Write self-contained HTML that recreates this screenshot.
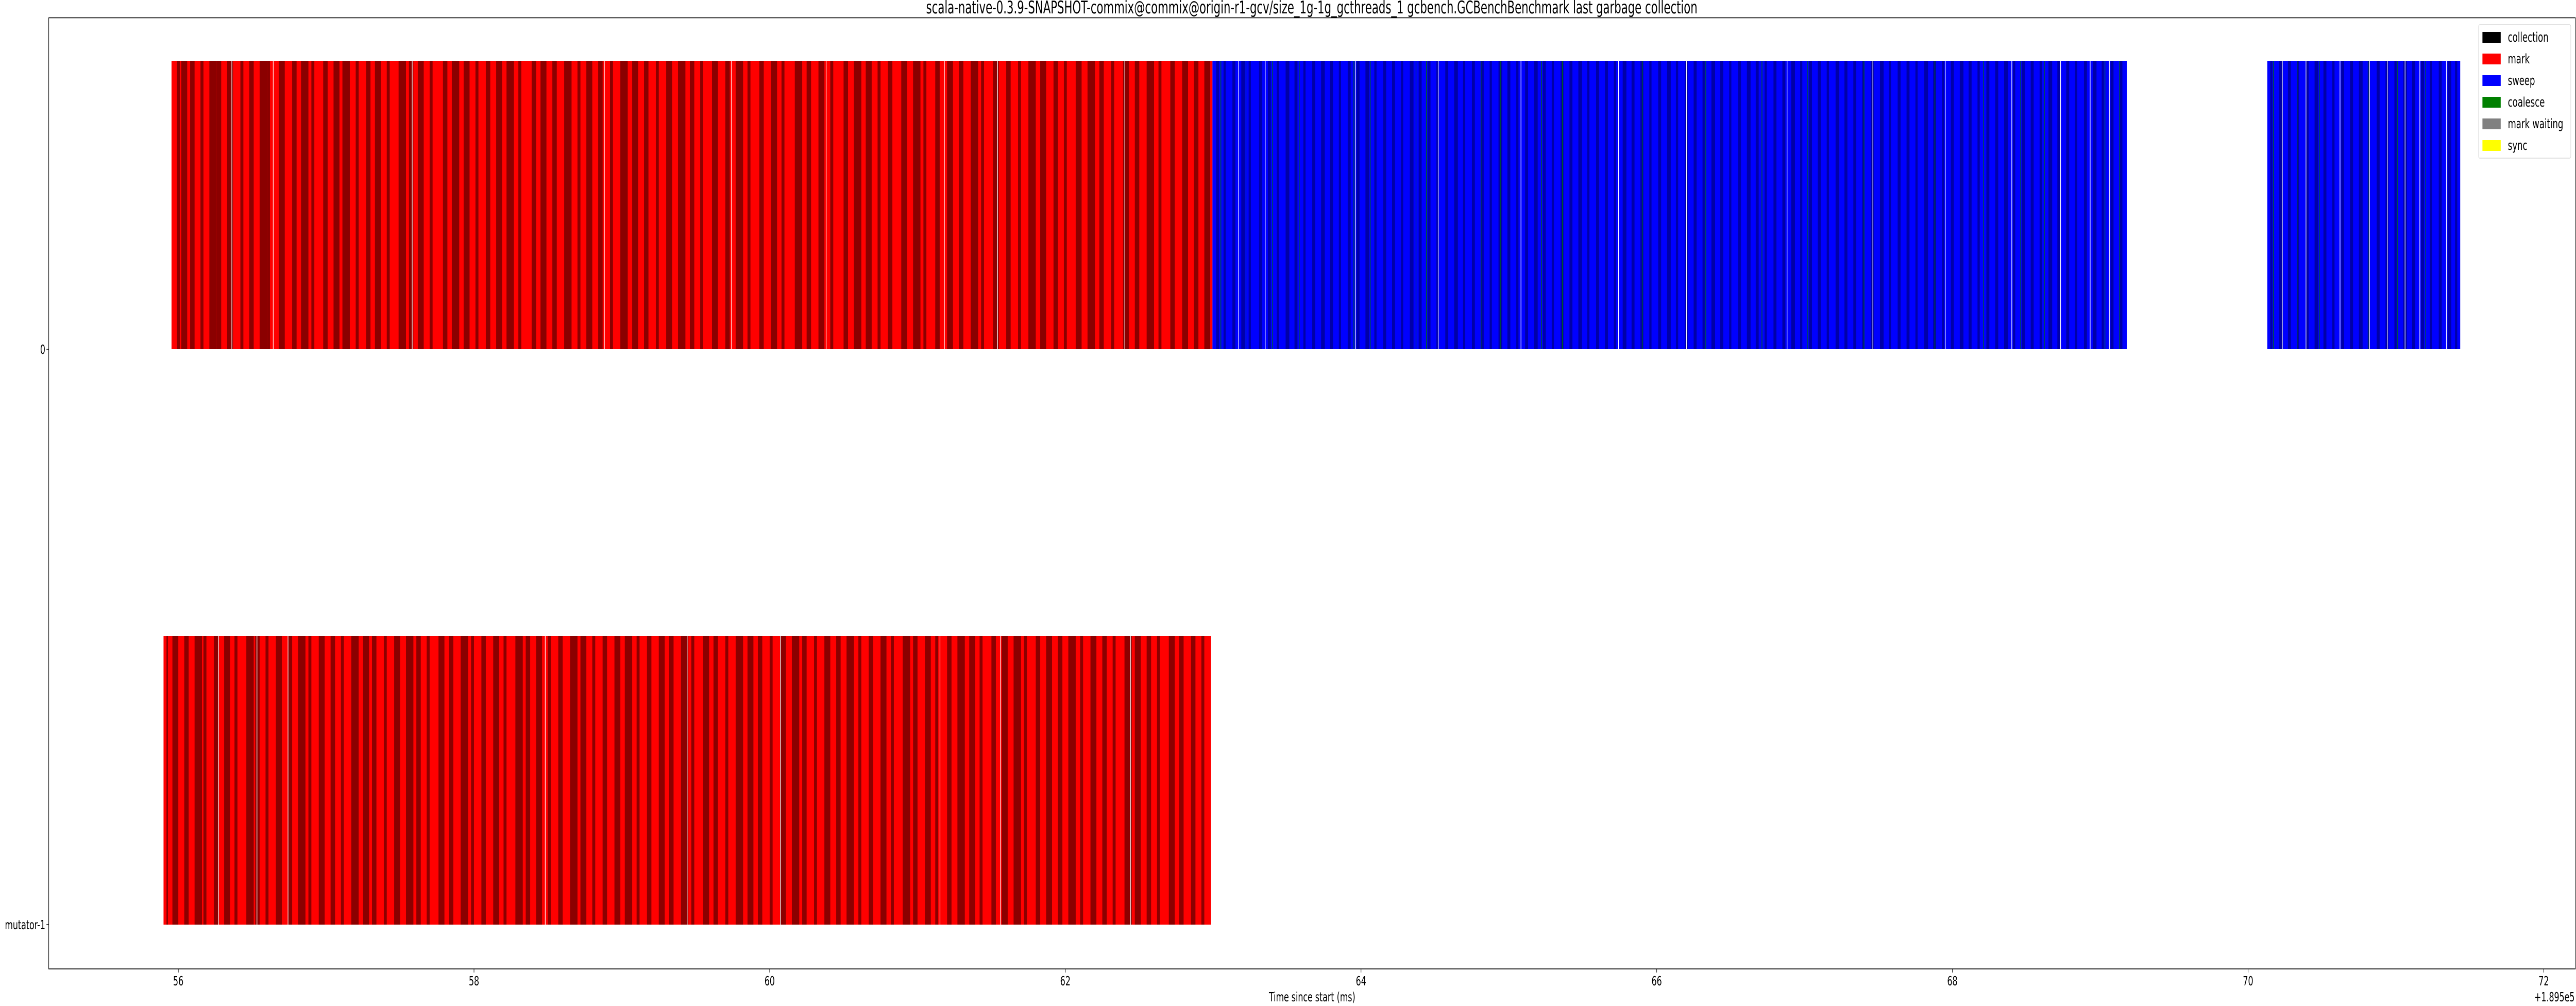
<!DOCTYPE html>
<html><head><meta charset="utf-8"><style>
html,body{margin:0;padding:0;background:#fff;overflow:hidden;width:100vw;height:100vh;}
svg{display:block;width:100vw;height:100vh;font-family:"DejaVu Sans","Liberation Sans",sans-serif;}
</style></head><body>
<svg id="chart" viewBox="0 0 7902 1953" preserveAspectRatio="none" xmlns="http://www.w3.org/2000/svg">
<rect width="7902" height="1953" fill="#fff"/>
<text x="4024" y="26" font-size="34" text-anchor="middle" textLength="2366" lengthAdjust="spacingAndGlyphs">scala-native-0.3.9-SNAPSHOT-commix@commix@origin-r1-gcv/size_1g-1g_gcthreads_1 gcbench.GCBenchBenchmark last garbage collection</text>
<g id="marks"></g>
<g id="axes"></g>
</svg>
<script>
const rowLabels = ['0', 'mutator-1'];
const xTicks = [56, 58, 60, 62, 64, 66, 68, 70, 72];
const xOffsetLabel = '+1.895e5';
const row0Mark = [55.954, 62.995];
const row0Sweep1 = [62.995, 69.18];
const row0Sweep2 = [70.13, 71.435];
const mutMark = [55.90, 62.986];
const r0DarkStart = [55.99,56.02,56.08,56.15,56.21,56.26,56.33,56.42,56.48,56.55,56.60,56.68,56.77,56.83,56.90,56.98,57.05,57.11,57.20,57.27,57.33,57.41,57.49,57.56,57.62,57.70,57.79,57.85,57.93,58.01,58.08,58.15,58.22,58.30,58.39,58.45,58.53,58.61,58.70,58.76,58.84,58.92,58.99,59.07,59.15,59.23,59.30,59.38,59.46,59.53,59.61,59.70,59.77,59.85,59.93,60.01,60.08,60.17,60.25,60.33,60.41,60.50,60.57,60.65,60.73,60.80,60.89,60.97,61.04,61.12,61.20,61.28,61.36,61.43,61.51,61.60,61.68,61.75,61.83,61.92,61.99,62.07,62.15,62.23,62.31,62.39,62.47,62.55,62.63,62.71,62.79,62.87,62.94];
const r0DarkWidth = [0.02,0.04,0.03,0.02,0.05,0.03,0.04,0.02,0.03,0.05,0.02,0.04,0.03,0.05,0.02,0.03,0.04,0.05,0.02,0.03,0.04,0.02,0.05,0.03,0.04,0.02,0.03,0.05,0.04,0.02,0.03,0.04,0.05,0.02,0.03,0.04,0.03,0.05,0.02,0.04,0.03,0.02,0.05,0.04,0.03,0.02,0.04,0.05,0.03,0.02,0.04,0.03,0.05,0.02,0.03,0.04,0.02,0.05,0.03,0.04,0.02,0.03,0.05,0.04,0.02,0.03,0.04,0.05,0.02,0.03,0.04,0.03,0.05,0.02,0.04,0.03,0.02,0.05,0.04,0.03,0.02,0.04,0.05,0.03,0.02,0.04,0.03,0.05,0.02,0.03,0.04,0.03,0.04];
const r0WhiteGaps = [56.36,56.64,57.58,58.88,59.74,60.38,61.18,61.54,62.40];
const mutDarkStart = [55.92,55.96,56.04,56.11,56.17,56.24,56.31,56.38,56.46,56.52,56.59,56.66,56.74,56.81,56.88,56.95,57.03,57.10,57.17,57.25,57.31,57.39,57.46,57.54,57.61,57.68,57.76,57.83,57.91,57.98,58.05,58.13,58.20,58.28,58.35,58.42,58.50,58.57,58.65,58.72,58.80,58.87,58.95,59.02,59.10,59.17,59.25,59.32,59.40,59.47,59.55,59.62,59.70,59.77,59.85,59.92,60.00,60.07,60.15,60.22,60.30,60.37,60.45,60.52,60.60,60.67,60.75,60.82,60.90,60.97,61.05,61.12,61.20,61.27,61.35,61.42,61.50,61.57,61.65,61.72,61.80,61.87,61.95,62.02,62.10,62.17,62.25,62.32,62.40,62.47,62.55,62.62,62.70,62.77,62.85,62.92];
const mutDarkWidth = [0.01,0.04,0.03,0.05,0.02,0.03,0.04,0.02,0.05,0.03,0.02,0.04,0.03,0.05,0.02,0.04,0.03,0.02,0.05,0.04,0.03,0.02,0.04,0.05,0.03,0.02,0.04,0.03,0.05,0.02,0.03,0.04,0.02,0.05,0.03,0.04,0.02,0.03,0.05,0.04,0.02,0.03,0.04,0.05,0.02,0.03,0.04,0.03,0.05,0.02,0.04,0.03,0.02,0.05,0.04,0.03,0.02,0.04,0.05,0.03,0.02,0.04,0.03,0.05,0.02,0.03,0.04,0.02,0.05,0.03,0.04,0.02,0.03,0.05,0.04,0.02,0.03,0.04,0.05,0.02,0.03,0.04,0.03,0.05,0.02,0.04,0.03,0.02,0.05,0.04,0.03,0.02,0.04,0.03,0.03,0.02];
const mutWhiteGaps = [56.27,56.53,56.74,58.48,59.44,60.07,61.15,61.56,62.44];
const sweepDarkStart = [63.02,63.07,63.13,63.19,63.24,63.31,63.37,63.43,63.49,63.55,63.61,63.67,63.73,63.79,63.85,63.91,63.97,64.03,64.09,64.15,64.21,64.27,64.33,64.39,64.45,64.51,64.57,64.63,64.69,64.75,64.81,64.87,64.93,64.99,65.05,65.11,65.17,65.23,65.29,65.35,65.41,65.47,65.53,65.59,65.65,65.71,65.77,65.83,65.89,65.95,66.01,66.07,66.13,66.19,66.25,66.31,66.37,66.43,66.49,66.55,66.61,66.67,66.73,66.79,66.85,66.91,66.97,67.03,67.09,67.15,67.21,67.27,67.33,67.39,67.45,67.51,67.57,67.63,67.69,67.75,67.81,67.87,67.93,67.99,68.05,68.11,68.17,68.23,68.29,68.35,68.41,68.47,68.53,68.59,68.65,68.71,68.77,68.83,68.89,68.95,69.01,69.07,69.13,70.15,70.21,70.27,70.33,70.39,70.45,70.51,70.57,70.63,70.69,70.75,70.81,70.87,70.93,70.99,71.05,71.11,71.17,71.23,71.29,71.35,71.40];
const sweepDarkWidth = [0.02,0.015,0.02,0.025,0.015,0.02,0.02,0.015,0.025,0.02,0.015,0.02,0.025,0.02,0.015,0.02,0.02,0.025,0.015,0.02,0.02,0.015,0.025,0.02];
const sweepWhiteGaps = [63.17,63.35,63.96,64.52,65.08,65.74,66.20,66.88,67.46,67.95,68.40,68.73,68.93,69.06,70.23,70.39,70.62,70.82,70.94,71.06,71.16,71.34];
const coalesceLines = [63.05,63.22,63.40,63.58,63.95,64.06,64.37,64.44,64.81,64.94,65.22,65.36,65.90,66.33,66.71,67.02,67.40,67.88,68.21,68.46,68.62,69.03,69.13,70.17,70.33,70.48,70.81,71.01,71.20];

const NS = 'http://www.w3.org/2000/svg';
const marks = document.getElementById('marks');
const axes = document.getElementById('axes');
const X0 = 547, PX_PER_MS = 453.5;
const xScale = t => X0 + (t - 56) * PX_PER_MS;
const yScale = i => 678 + i * 1117;
const BAR_H = 560;
const L = 149.5, R = 7900, T = 34.5, B = 1881;

function mk(tag, attrs, parent) {
  const el = document.createElementNS(NS, tag);
  for (const k in attrs) el.setAttribute(k, attrs[k]);
  parent.appendChild(el);
  return el;
}
function span(row, a, b, color, parent) {
  const x1 = xScale(a), x2 = xScale(b);
  return mk('rect', {x: x1, y: yScale(row) - BAR_H, width: Math.max(x2 - x1, 1), height: BAR_H, fill: color}, parent);
}

let el = span(0, row0Mark[0], row0Mark[1], '#ff0000', marks);


el = span(1, mutMark[0], mutMark[1], '#ff0000', marks);


el = span(0, row0Sweep1[0], row0Sweep1[1], '#0000ff', marks);


el = span(0, row0Sweep2[0], row0Sweep2[1], '#0000ff', marks);



r0DarkStart.forEach((s, i) => {
  const e = span(0, s, Math.min(s + (r0DarkWidth[i] || 0.03), row0Mark[1]), '#8b0000', marks);
  
  
});
mutDarkStart.forEach((s, i) => {
  const e = span(1, s, Math.min(s + (mutDarkWidth[i] || 0.03), mutMark[1]), '#8b0000', marks);
  
  
});
sweepDarkStart.forEach((s, i) => {
  const e = span(0, s, s + (sweepDarkWidth[i % sweepDarkWidth.length] || 0.02), '#0000a8', marks);
  
  
});
coalesceLines.forEach(s => {
  const e = span(0, s, s + 0.004, '#007000', marks);
  
  
});
r0WhiteGaps.concat(sweepWhiteGaps).forEach(s => {
  const e = span(0, s, s + 0.004, '#ffffff', marks);
  
  
});
mutWhiteGaps.forEach(s => {
  const e = span(1, s, s + 0.004, '#ffffff', marks);
  
  
});

const frame = mk('rect', {x: L, y: T, width: R - L, height: B - T, fill: 'none', stroke: '#000', 'stroke-width': 1.6}, axes);



xTicks.forEach(v => {
  const x = xScale(v);
  const tk = mk('line', {x1: x, x2: x, y1: B, y2: B + 7, stroke: '#000', 'stroke-width': 1.4}, axes);
  
  
  const tl = mk('text', {x: x, y: 1913, 'font-size': 25, 'text-anchor': 'middle'}, axes);
  tl.textContent = String(v);
  
  
});
rowLabels.forEach((lab, i) => {
  const y = yScale(i);
  const tk = mk('line', {x1: L - 7, x2: L, y1: y, y2: y, stroke: '#000', 'stroke-width': 1.4}, axes);
  
  
  const tl = mk('text', {x: 139, y: y + 9, 'font-size': 25, 'text-anchor': 'end'}, axes);
  tl.textContent = lab;
  
  
});
const off = mk('text', {x: 7898, y: 1944, 'font-size': 25, 'text-anchor': 'end'}, axes);
off.textContent = xOffsetLabel;


const xt = mk('text', {x: 4025, y: 1944, 'font-size': 25, 'text-anchor': 'middle'}, axes);
xt.textContent = 'Time since start (ms)';



const legendNames = ['collection', 'mark', 'sweep', 'coalesce', 'mark waiting', 'sync'];
const legendColors = ['#000000', '#ff0000', '#0000ff', '#008000', '#808080', '#ffff00'];
const lg = mk('g', {}, axes);


mk('rect', {x: 7603, y: 48, width: 283, height: 259, rx: 4, fill: '#fff', 'fill-opacity': 0.8, stroke: '#d8d8d8', 'stroke-width': 1.4}, lg);
legendNames.forEach((n, i) => {
  const cy = 72 + i * 42;
  const sw = mk('rect', {x: 7615, y: cy - 10, width: 56, height: 21, fill: legendColors[i]}, lg);
  
  
  const t = mk('text', {x: 7693, y: cy + 9, 'font-size': 26}, lg);
  t.textContent = n;
  
  
});
</script>
</body></html>
